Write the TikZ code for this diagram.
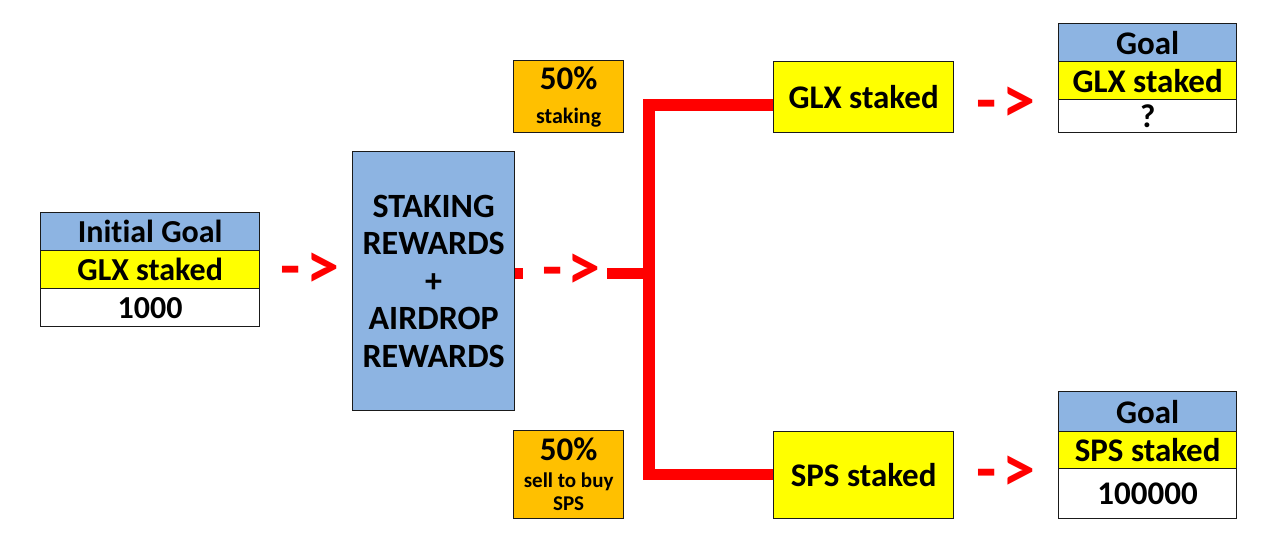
\documentclass[tikz,border=0pt]{standalone}
\usepackage{fontspec}
\setmainfont{Carlito}[Ligatures=NoCommon]
\definecolor{cblue}{HTML}{8DB4E2}
\definecolor{cyel}{HTML}{FFFF00}
\definecolor{corange}{HTML}{FFC000}
\definecolor{cred}{HTML}{FF0000}
\definecolor{cline}{HTML}{1A1A1A}
\tikzset{
  cell/.style={draw=cline, line width=1.3pt, inner sep=0pt, anchor=north west, align=center,
    font=\fontsize{32}{34}\selectfont\bfseries},
  bigcell/.style={cell, font=\fontsize{33}{35}\selectfont\bfseries},
  bar/.style={draw=cred, line width=11.5pt},
  arrowtxt/.style={text=cred, inner sep=0pt, anchor=base west, font=\fontsize{66}{66}\selectfont\bfseries},
}
\begin{document}
\begin{tikzpicture}[x=1pt,y=-1pt]
\useasboundingbox[fill=white] (0,0) rectangle (1280,544);
% initial goal table
\node[cell, fill=cblue, minimum width=219pt, minimum height=38pt] (ig1) at (40,212) {Initial Goal};
\node[cell, fill=cyel, minimum width=219pt, minimum height=38pt] (ig2) at (40,250) {GLX staked};
\node[cell, fill=white, minimum width=219pt, minimum height=38pt] (ig3) at (40,288) {1000};
\node[arrowtxt] (a1) at (280,288) {-\hspace{6pt}>};
% staking box
\node[cell, fill=cblue, minimum width=162pt, minimum height=259pt,
  font=\fontsize{34}{37.5}\selectfont\bfseries] (stake) at (352,151) {STAKING\\REWARDS\\+\\AIRDROP\\REWARDS};
% percentage boxes
\node[cell, fill=corange, minimum width=110pt, minimum height=72pt,
  font=\fontsize{22}{24}\selectfont\bfseries] (p1) at (513,60) {{\fontsize{33}{34}\selectfont 50\%}\\[10pt]staking};
\node[cell, fill=corange, minimum width=110pt, minimum height=88pt,
  font=\fontsize{21}{23}\selectfont\bfseries] (p2) at (513,430) {{\fontsize{33}{34}\selectfont 50\%}\\[4pt]sell to buy\\SPS};
% result boxes
\node[bigcell, fill=cyel, minimum width=180pt, minimum height=71pt] (glx) at (773,61) {GLX staked};
\node[bigcell, fill=cyel, minimum width=180pt, minimum height=87pt] (sps) at (773,431) {SPS staked};
\node[arrowtxt] (a3) at (976,122) {-\hspace{6pt}>};
\node[arrowtxt] (a4) at (976,491) {-\hspace{6pt}>};
% goal tables
\node[bigcell, fill=cblue, minimum width=178pt, minimum height=38pt] (g1) at (1058,23) {Goal};
\node[bigcell, fill=cyel, minimum width=178pt, minimum height=38pt] (g2) at (1058,61) {GLX staked};
\node[bigcell, fill=white, minimum width=178pt, minimum height=33pt] (g3) at (1058,99) {?};
\node[bigcell, fill=cblue, minimum width=178pt, minimum height=40pt] (h1) at (1058,391) {Goal};
\node[bigcell, fill=cyel, minimum width=178pt, minimum height=37pt] (h2) at (1058,431) {SPS staked};
\node[bigcell, fill=white, minimum width=178pt, minimum height=50pt] (h3) at (1058,468) {100000};
% connectors
\coordinate (jn) at (649,273.5);
\coordinate (vt) at (649,105);
\coordinate (vb) at (649,474.5);
\coordinate (s1) at (523,273.5);
\coordinate (s2) at (607,273.5);
\node[arrowtxt] (a2) at (542,289) {-\hspace{5pt}>};
\draw[bar] (stake.east |- jn) -- (s1);
\draw[bar] (s2) -- (jn);
\draw[bar, line join=miter] (glx.west |- vt) -- (vt) -- (vb) -- (sps.west |- vb);
\end{tikzpicture}
\end{document}
